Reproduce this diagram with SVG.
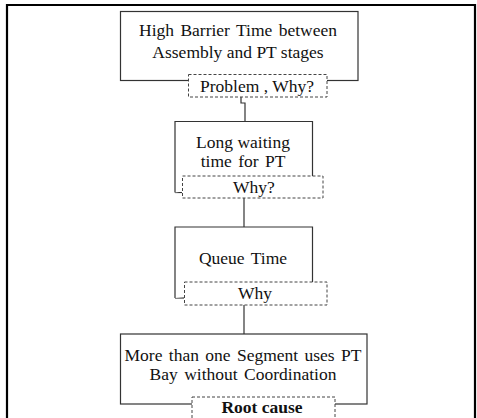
<svg xmlns="http://www.w3.org/2000/svg" width="477" height="418" viewBox="0 0 477 418">
  <style>
    .box { fill: #ffffff; stroke: #333333; stroke-width: 1.2; }
    .tag { fill: #ffffff; stroke: #444444; stroke-width: 1; stroke-dasharray: 3 2; }
    text { font-family: 'Liberation Serif', 'DejaVu Serif', serif; font-size: 17.5px; fill: #111111; text-anchor: middle; }
    .bold { font-weight: bold; }
    .link { fill: none; stroke: #333333; stroke-width: 1.2; }
    .frame { fill: none; stroke: #000000; stroke-width: 2.2; }
  </style>
  <rect width="477" height="418" fill="#ffffff"/>
  <!-- page frame (open at the bottom) -->
  <path class="frame" d="M7,420 V5 H475 V420"/>

  <g id="connectors">
    <path class="link" d="M241,97 V103 H245 V121"/>
    <path class="link" d="M244,198 V227"/>
    <path class="link" d="M244,305 V334"/>
    <path class="link" d="M175,192.5 H182"/>
    <path class="link" d="M175,298 H184"/>
  </g>

  <g id="problem">
    <rect class="box" x="120.5" y="11.5" width="237.5" height="69"/>
    <text x="238" y="36" word-spacing="2">High Barrier Time between</text>
    <text x="238" y="57.5">Assembly and PT stages</text>
    <rect class="tag" x="188.5" y="74.5" width="138.5" height="22.5"/>
    <text x="257" y="92">Problem , Why?</text>
  </g>

  <g id="why1">
    <path class="box" d="M175,192.5 V121.5 H312.5 V176" fill="none"/>
    <text x="243" y="148">Long waiting</text>
    <text x="243" y="167" word-spacing="2">time for PT</text>
    <rect class="tag" x="182.5" y="176" width="140.5" height="22"/>
    <text x="254" y="192.5">Why?</text>
  </g>

  <g id="why2">
    <path class="box" d="M175,298 V227 H312.5 V282" fill="none"/>
    <text x="243" y="264" word-spacing="2">Queue Time</text>
    <rect class="tag" x="184.5" y="282" width="142.5" height="23"/>
    <text x="255" y="299">Why</text>
  </g>

  <g id="root">
    <rect class="box" x="120.5" y="334" width="246.5" height="70"/>
    <text x="243" y="361" word-spacing="2">More than one Segment uses PT</text>
    <text x="243" y="380" word-spacing="2">Bay without Coordination</text>
    <rect class="tag" x="192" y="397" width="143" height="30"/>
    <text class="bold" x="262" y="413">Root cause</text>
  </g>
</svg>
